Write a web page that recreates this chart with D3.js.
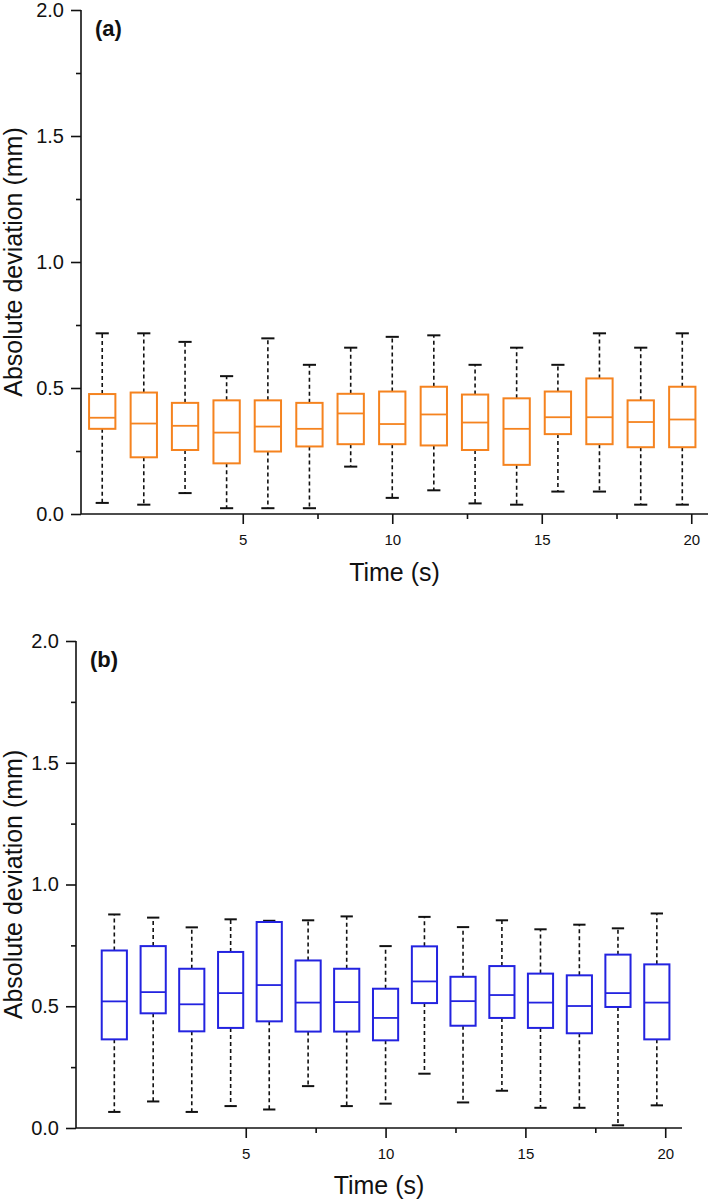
<!DOCTYPE html>
<html>
<head>
<meta charset="utf-8">
<script src="https://cdn.jsdelivr.net/npm/d3@7"></script>
<style>
  body { margin: 0; background: #fff; }
  svg { display: block; }
  text { font-family: Arial, "Liberation Sans", sans-serif; fill: #111; }
</style>
</head>
<body>
<svg id="chart" width="709" height="1201"></svg>
<script>
// ---- data ----
const times = [0.3, 1.69, 3.07, 4.46, 5.84, 7.23, 8.61, 10.0, 11.39, 12.77, 14.16, 15.54, 16.93, 18.31, 19.7];

// panel (a)
const aMin    = [0.044, 0.037, 0.083, 0.023, 0.023, 0.023, 0.188, 0.064, 0.094, 0.042, 0.037, 0.089, 0.089, 0.037, 0.037];
const aQ1     = [0.338, 0.225, 0.254, 0.201, 0.248, 0.268, 0.277, 0.277, 0.272, 0.254, 0.195, 0.317, 0.277, 0.265, 0.265];
const aMedian = [0.382, 0.359, 0.350, 0.323, 0.347, 0.338, 0.399, 0.357, 0.395, 0.363, 0.338, 0.384, 0.384, 0.365, 0.375];
const aQ3     = [0.476, 0.482, 0.441, 0.451, 0.451, 0.441, 0.477, 0.486, 0.505, 0.474, 0.459, 0.486, 0.538, 0.451, 0.505];
const aMax    = [0.717, 0.717, 0.683, 0.547, 0.697, 0.592, 0.660, 0.703, 0.709, 0.592, 0.660, 0.592, 0.717, 0.660, 0.717];

// panel (b)
const bMin    = [0.066, 0.109, 0.066, 0.090, 0.076, 0.172, 0.090, 0.100, 0.223, 0.105, 0.153, 0.083, 0.083, 0.011, 0.093];
const bQ1     = [0.364, 0.471, 0.397, 0.411, 0.438, 0.396, 0.396, 0.360, 0.513, 0.420, 0.452, 0.411, 0.389, 0.497, 0.364];
const bMedian = [0.520, 0.558, 0.508, 0.554, 0.587, 0.515, 0.517, 0.452, 0.602, 0.521, 0.546, 0.515, 0.501, 0.554, 0.515];
const bQ3     = [0.729, 0.747, 0.654, 0.723, 0.846, 0.688, 0.654, 0.572, 0.746, 0.621, 0.665, 0.634, 0.627, 0.712, 0.672];
const bMax    = [0.877, 0.864, 0.824, 0.857, 0.851, 0.853, 0.869, 0.747, 0.867, 0.825, 0.853, 0.816, 0.835, 0.820, 0.881];

const yMajor = [0, 0.5, 1.0, 1.5, 2.0];
const yMinor = [0.25, 0.75, 1.25, 1.75];
const xMajor = [5, 10, 15, 20];
const xMinor = [7.5, 12.5, 17.5];
const xTitle = "Time (s)";
const yTitle = "Absolute deviation (mm)";

const svg = d3.select("#chart");

function panel(cfg) {
  const g = svg.append("g");
  const x = d3.scaleLinear().domain(cfg.xDomain).range([cfg.left, cfg.right]);
  const y = d3.scaleLinear().domain([0, 2]).range([cfg.bottom, cfg.top]);

  const rows = times.map((t, i) => ({
    t, min: cfg.min[i], q1: cfg.q1[i], med: cfg.med[i], q3: cfg.q3[i], max: cfg.max[i]
  }));
  const halfW = cfg.boxHalf;
  const capHalf = 0.22;

  const box = g.selectAll("g.box").data(rows).join("g").attr("class", "box");
  // whiskers (dashed)
  box.append("line")
    .attr("x1", d => x(d.t)).attr("x2", d => x(d.t))
    .attr("y1", d => y(d.q3)).attr("y2", d => y(d.max))
    .attr("stroke", "#111").attr("stroke-width", 1.6).attr("stroke-dasharray", "4,3");
  box.append("line")
    .attr("x1", d => x(d.t)).attr("x2", d => x(d.t))
    .attr("y1", d => y(d.q1)).attr("y2", d => y(d.min))
    .attr("stroke", "#111").attr("stroke-width", 1.6).attr("stroke-dasharray", "4,3");
  // caps
  ["min", "max"].forEach(k => {
    box.append("line")
      .attr("x1", d => x(d.t - capHalf)).attr("x2", d => x(d.t + capHalf))
      .attr("y1", d => y(d[k])).attr("y2", d => y(d[k]))
      .attr("stroke", "#111").attr("stroke-width", 2);
  });
  // box
  box.append("rect")
    .attr("x", d => x(d.t - halfW))
    .attr("width", d => x(d.t + halfW) - x(d.t - halfW))
    .attr("y", d => y(d.q3))
    .attr("height", d => y(d.q1) - y(d.q3))
    .attr("fill", "#fff").attr("stroke", cfg.color).attr("stroke-width", 2);
  box.append("line")
    .attr("x1", d => x(d.t - halfW)).attr("x2", d => x(d.t + halfW))
    .attr("y1", d => y(d.med)).attr("y2", d => y(d.med))
    .attr("stroke", cfg.color).attr("stroke-width", 1.8);

  // y axis
  const yAxis = g.append("g").attr("transform", `translate(${cfg.left},0)`)
    .call(d3.axisLeft(y).tickValues(yMajor).tickSize(10).tickPadding(7).tickFormat(d3.format(".1f")));
  yAxis.select(".domain").attr("stroke", "#111").attr("stroke-width", 1.6).attr("d", `M0,${cfg.bottom}V${cfg.top}`);
  yAxis.selectAll(".tick line").attr("stroke", "#111").attr("stroke-width", 1.6);
  yAxis.selectAll(".tick text").attr("font-size", 20).attr("fill", "#111")
    .attr("font-family", "Arial, 'Liberation Sans', sans-serif");
  const yMin = g.append("g").attr("transform", `translate(${cfg.left},0)`)
    .call(d3.axisLeft(y).tickValues(yMinor).tickSize(5).tickFormat(""));
  yMin.select(".domain").remove();
  yMin.selectAll(".tick line").attr("stroke", "#111").attr("stroke-width", 1.6);

  // x axis
  const xAxis = g.append("g").attr("transform", `translate(0,${cfg.bottom})`)
    .call(d3.axisBottom(x).tickValues(xMajor).tickSize(10).tickPadding(10).tickFormat(d3.format("d")));
  xAxis.select(".domain").attr("stroke", "#111").attr("stroke-width", 1.6).attr("d", `M${cfg.left},0H${cfg.right}`);
  xAxis.selectAll(".tick line").attr("stroke", "#111").attr("stroke-width", 1.6);
  xAxis.selectAll(".tick text").attr("font-size", 15).attr("fill", "#111")
    .attr("font-family", "Arial, 'Liberation Sans', sans-serif");
  const xMin = g.append("g").attr("transform", `translate(0,${cfg.bottom})`)
    .call(d3.axisBottom(x).tickValues(xMinor).tickSize(5).tickFormat(""));
  xMin.select(".domain").remove();
  xMin.selectAll(".tick line").attr("stroke", "#111").attr("stroke-width", 1.6);

  // titles
  g.append("text").attr("x", (cfg.left + cfg.right) / 2).attr("y", cfg.xTitleY)
    .attr("text-anchor", "middle").attr("font-size", 25).text(xTitle);
  g.append("text").attr("transform", `translate(${cfg.yTitleX},${(cfg.top + cfg.bottom) / 2 + cfg.yTitleShift}) rotate(-90)`)
    .attr("text-anchor", "middle").attr("font-size", 25).text(yTitle);
  g.append("text").attr("x", cfg.left + 14).attr("y", cfg.top + 26)
    .attr("font-size", 22).attr("font-weight", "bold").text(cfg.label);
}

panel({
  min: aMin, q1: aQ1, med: aMedian, q3: aQ3, max: aMax,
  color: "#F5831F", label: "(a)",
  left: 81, right: 708, top: 10, bottom: 514,
  xDomain: [-0.41, 20.56], boxHalf: 0.44,
  xTitleY: 581, yTitleX: 22, yTitleShift: 0
});
panel({
  min: bMin, q1: bQ1, med: bMedian, q3: bQ3, max: bMax,
  color: "#2323E0", label: "(b)",
  left: 76, right: 682, top: 641, bottom: 1128,
  xDomain: [-1.07, 20.60], boxHalf: 0.45,
  xTitleY: 1194, yTitleX: 22, yTitleShift: 0
});
</script>
</body>
</html>
